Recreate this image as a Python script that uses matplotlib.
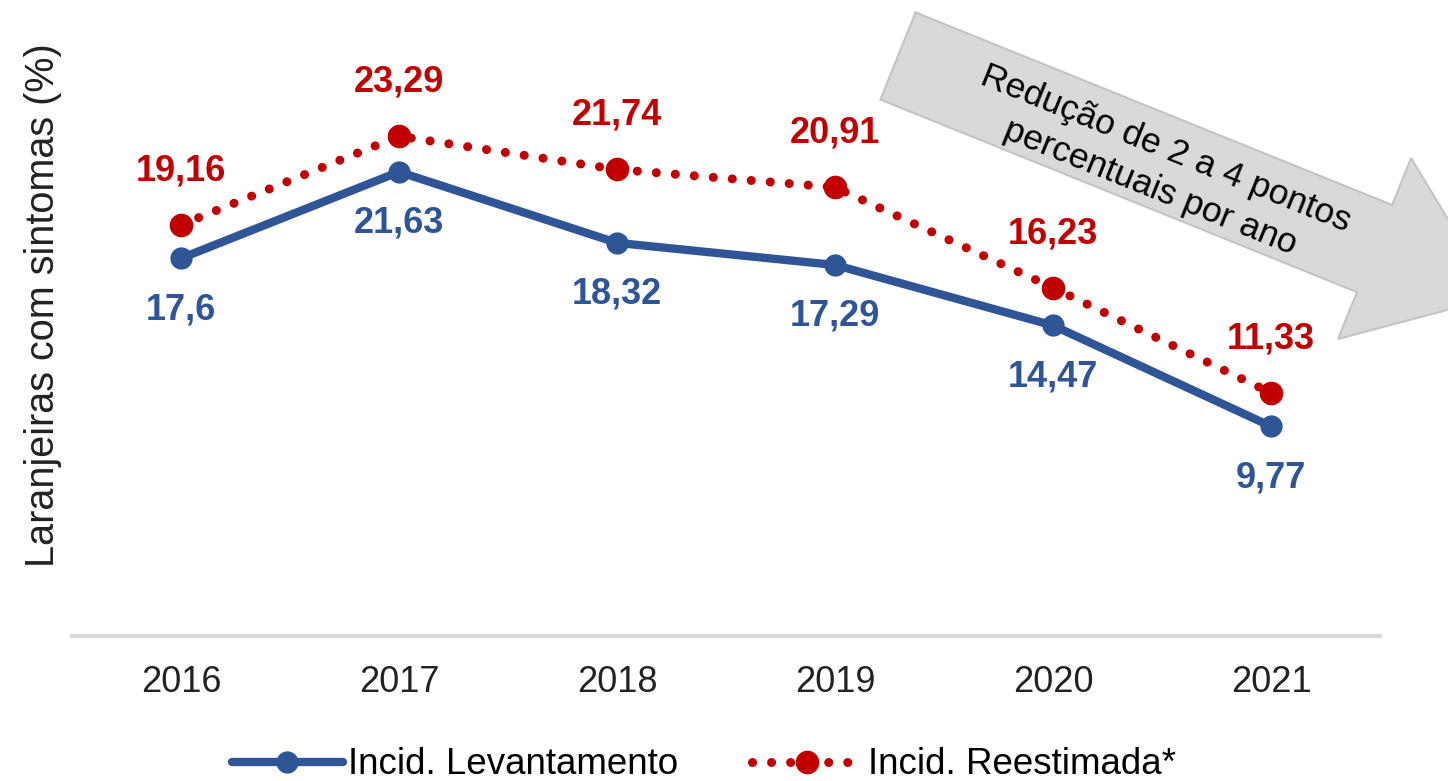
import numpy as np
import matplotlib.pyplot as plt
from matplotlib.patches import Polygon
from matplotlib.lines import Line2D

anos = ['2016', '2017', '2018', '2019', '2020', '2021']
levantamento = [17.6, 21.63, 18.32, 17.29, 14.47, 9.77]
reestimada = [19.16, 23.29, 21.74, 20.91, 16.23, 11.33]
rotulos_lev = ['17,6', '21,63', '18,32', '17,29', '14,47', '9,77']
rotulos_ree = ['19,16', '23,29', '21,74', '20,91', '16,23', '11,33']

azul = '#2f5597'
vermelho = '#c00000'
narrow = ['Liberation Sans Narrow', 'Liberation Sans', 'DejaVu Sans']

W, H = 1448, 781
fig = plt.figure(figsize=(W / 100, H / 100), dpi=100)
ax = fig.add_axes([72 / W, 145 / H, (1380 - 72) / W, (636 - 56.6) / H])

x = np.arange(len(anos))
ax.plot(x, levantamento, color=azul, lw=6, marker='o', ms=15, solid_capstyle='round', zorder=3)
ax.plot(x, reestimada, color=vermelho, lw=6.5, linestyle=(0, (0.01, 2.1)),
        dash_capstyle='round', marker='o', ms=16, zorder=3)

for xi, v, t in zip(x, reestimada, rotulos_ree):
    ax.annotate(t, (xi, v), xytext=(0, 39), textcoords='offset points', ha='center', va='center',
                color=vermelho, fontsize=26, fontweight='bold', family=narrow)
for xi, v, t in zip(x, levantamento, rotulos_lev):
    ax.annotate(t, (xi, v), xytext=(0, -37), textcoords='offset points', ha='center', va='center',
                color=azul, fontsize=26, fontweight='bold', family=narrow)

ax.set_xlim(-0.5, len(anos) - 0.5)
ax.set_ylim(0, 27)
ax.set_xticks(x)
ax.set_xticklabels(anos, fontsize=26, family=narrow, color='#222222')
ax.tick_params(axis='x', length=0, pad=21)
ax.set_yticks([])
for s in ['top', 'right', 'left']:
    ax.spines[s].set_visible(False)
ax.spines['bottom'].set_color('#d9d9d9')
ax.spines['bottom'].set_linewidth(3)

fig.text(43 / W, 1 - 305 / H, 'Laranjeiras com sintomas (%)', rotation=90, ha='center', va='center',
         fontsize=28.5, family=narrow, color='#222222')

# seta cinza de tendencia
ang = np.deg2rad(-22)
u = np.array([np.cos(ang), np.sin(ang)])
n = np.array([np.sin(ang), -np.cos(ang)])
cauda = np.array([898, H - 56])
shaft_len, shaft_w, head_w, head_len = 514, 94, 195, 130
base = cauda + u * shaft_len
pts = [cauda + n * shaft_w / 2, base + n * shaft_w / 2, base + n * head_w / 2,
       base + u * head_len, base - n * head_w / 2, base - n * shaft_w / 2, cauda - n * shaft_w / 2]
pts = [(p[0] / W, p[1] / H) for p in pts]
fig.patches.append(Polygon(pts, closed=True, transform=fig.transFigure, facecolor='#d9d9d9',
                           edgecolor='#c4c4c4', lw=1.5, zorder=5))
fig.text(1158 / W, 1 - 168 / H, 'Redução de 2 a 4 pontos\npercentuais por ano', rotation=-22,
         rotation_mode='anchor', ha='center', va='center', multialignment='center',
         fontsize=25.5, linespacing=1.3, family=['Liberation Sans', 'DejaVu Sans'], zorder=6)

handles = [
    Line2D([], [], color=azul, lw=6, marker='o', ms=15, solid_capstyle='round'),
    Line2D([], [], color=vermelho, lw=6.5, linestyle=(0, (0.01, 2.1)), dash_capstyle='round',
           marker='o', ms=16),
]
fig.legend(handles, ['Incid. Levantamento', 'Incid. Reestimada*'], loc='center',
           bbox_to_anchor=(704 / W, 1 - 765 / H), ncol=2, frameon=False, borderpad=0,
           handlelength=3.0, handletextpad=0.15, columnspacing=2.0,
           prop={'family': narrow, 'size': 26.5})

fig.savefig('out.png', dpi=100)
